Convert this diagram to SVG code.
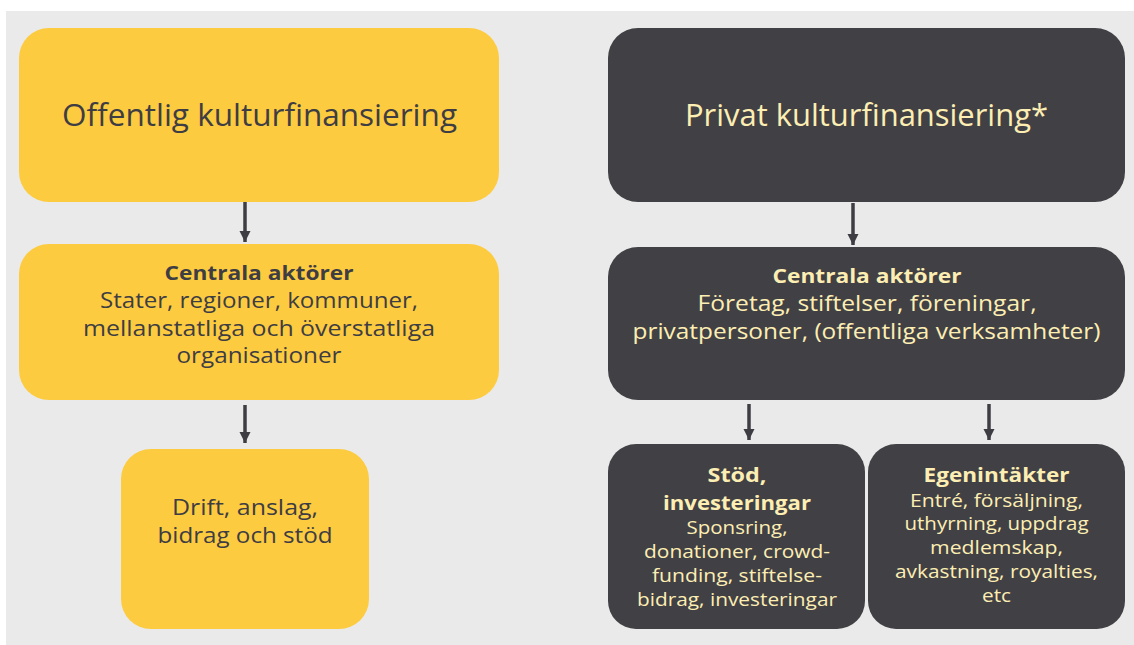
<svg xmlns="http://www.w3.org/2000/svg" width="1134" height="645" viewBox="0 0 1134 645">
  <defs>
    <style>
      .bg { fill: #eaeaea; }
      .yel { fill: #fdcb40; }
      .drk { fill: #414045; }
      text { font-family: "Open Sans", "Liberation Sans", sans-serif; text-anchor: middle; }
      .tdark { fill: #3e3d43; }
      .tlight { fill: #fdeeb3; }
      .big { font-size: 31px; }
      .med { font-size: 21.5px; }
      .sm { font-size: 17.5px; }
      .b { font-weight: 700; font-size: 20px; }
      .conn { stroke: #3e3d43; stroke-width: 3.5; fill: none; }
    </style>
    <marker id="ah" markerUnits="userSpaceOnUse" markerWidth="12" markerHeight="12" refX="11" refY="5.5" orient="auto">
      <path d="M0,0 L11,5.5 L0,11 z" fill="#3e3d43"/>
    </marker>
  </defs>

  <rect class="bg" x="6" y="11" width="1128" height="634"/>

  <g id="connectors">
    <line class="conn" x1="245" y1="202" x2="245" y2="242" marker-end="url(#ah)"/>
    <line class="conn" x1="245" y1="405" x2="245" y2="443" marker-end="url(#ah)"/>
    <line class="conn" x1="853" y1="203" x2="853" y2="245" marker-end="url(#ah)"/>
    <line class="conn" x1="749" y1="404" x2="749" y2="440" marker-end="url(#ah)"/>
    <line class="conn" x1="989" y1="404" x2="989" y2="440" marker-end="url(#ah)"/>
  </g>

  <g id="offentlig">
    <rect class="yel" x="19" y="28" width="480" height="174" rx="30"/>
    <text class="big tdark" x="259.5" y="126" textLength="395" lengthAdjust="spacingAndGlyphs">Offentlig kulturfinansiering</text>
  </g>

  <g id="offentlig-aktorer">
    <rect class="yel" x="19" y="244" width="480" height="156" rx="30"/>
    <text class="b tdark" x="259" y="280" textLength="189" lengthAdjust="spacingAndGlyphs">Centrala aktörer</text>
    <text class="med tdark" x="259" y="308" textLength="318" lengthAdjust="spacingAndGlyphs">Stater, regioner, kommuner,</text>
    <text class="med tdark" x="259" y="336" textLength="352" lengthAdjust="spacingAndGlyphs">mellanstatliga och överstatliga</text>
    <text class="med tdark" x="259" y="363" textLength="165" lengthAdjust="spacingAndGlyphs">organisationer</text>
  </g>

  <g id="drift">
    <rect class="yel" x="121" y="449" width="248" height="180" rx="30"/>
    <text class="med tdark" x="245" y="515" textLength="146" lengthAdjust="spacingAndGlyphs">Drift, anslag,</text>
    <text class="med tdark" x="245" y="543" textLength="175" lengthAdjust="spacingAndGlyphs">bidrag och stöd</text>
  </g>

  <g id="privat">
    <rect class="drk" x="608" y="28" width="517" height="174" rx="30"/>
    <text class="big tlight" x="866.5" y="126" textLength="363" lengthAdjust="spacingAndGlyphs">Privat kulturfinansiering*</text>
  </g>

  <g id="privat-aktorer">
    <rect class="drk" x="608" y="247" width="517" height="153" rx="30"/>
    <text class="b tlight" x="867" y="283" textLength="189" lengthAdjust="spacingAndGlyphs">Centrala aktörer</text>
    <text class="med tlight" x="867" y="311" textLength="339" lengthAdjust="spacingAndGlyphs">Företag, stiftelser, föreningar,</text>
    <text class="med tlight" x="866.5" y="339" textLength="468" lengthAdjust="spacingAndGlyphs">privatpersoner, (offentliga verksamheter)</text>
  </g>

  <g id="stod">
    <rect class="drk" x="608" y="444" width="257" height="185" rx="28"/>
    <text class="b tlight" x="737" y="482" textLength="59" lengthAdjust="spacingAndGlyphs">Stöd,</text>
    <text class="b tlight" x="737" y="510" textLength="148" lengthAdjust="spacingAndGlyphs">investeringar</text>
    <text class="sm tlight" x="737" y="534" textLength="101" lengthAdjust="spacingAndGlyphs">Sponsring,</text>
    <text class="sm tlight" x="737" y="558" textLength="186" lengthAdjust="spacingAndGlyphs">donationer, crowd-</text>
    <text class="sm tlight" x="737" y="582" textLength="170" lengthAdjust="spacingAndGlyphs">funding, stiftelse-</text>
    <text class="sm tlight" x="737" y="606" textLength="200" lengthAdjust="spacingAndGlyphs">bidrag, investeringar</text>
  </g>

  <g id="egenintakter">
    <rect class="drk" x="868" y="444" width="257" height="185" rx="28"/>
    <text class="b tlight" x="996.5" y="482" textLength="146" lengthAdjust="spacingAndGlyphs">Egenintäkter</text>
    <text class="sm tlight" x="996.5" y="507" textLength="173" lengthAdjust="spacingAndGlyphs">Entré, försäljning,</text>
    <text class="sm tlight" x="996.5" y="530" textLength="184" lengthAdjust="spacingAndGlyphs">uthyrning, uppdrag</text>
    <text class="sm tlight" x="996.5" y="554" textLength="133" lengthAdjust="spacingAndGlyphs">medlemskap,</text>
    <text class="sm tlight" x="996.5" y="578" textLength="203" lengthAdjust="spacingAndGlyphs">avkastning, royalties,</text>
    <text class="sm tlight" x="996.5" y="602" textLength="29" lengthAdjust="spacingAndGlyphs">etc</text>
  </g>
</svg>
